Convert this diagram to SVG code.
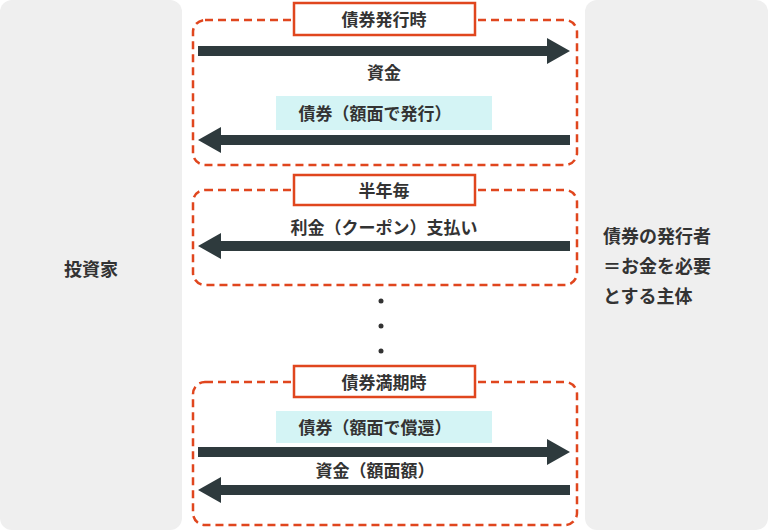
<svg xmlns="http://www.w3.org/2000/svg" width="768" height="530" viewBox="0 0 768 530">
<style>
.panel{fill:#efefef}
.dash{fill:none;stroke:#e0461e;stroke-width:2.5;stroke-dasharray:8,5}
.lbl{fill:#fff;stroke:#e0461e;stroke-width:2.5}
.cy{fill:#d4f4f5}
.ar{fill:#2e3a3d}
text{font-family:"Noto Sans CJK JP",sans-serif;font-weight:bold;fill:#333;font-size:17px;text-anchor:middle}
.big{font-size:18px}
</style>
<rect width="768" height="530" fill="#fff"/>
<g id="investor"><rect class="panel" x="0" y="0" width="182" height="530" rx="12"/><text class="big" x="91" y="276">投資家</text></g>
<g id="issuer"><rect class="panel" x="585" y="0" width="183" height="530" rx="12"/>
<text class="big" x="603" y="243" style="text-anchor:start">債券の発行者</text>
<text class="big" x="603" y="273" style="text-anchor:start">＝お金を必要</text>
<text class="big" x="603" y="303" style="text-anchor:start">とする主体</text></g>
<g id="issue">
<rect class="dash" x="193" y="20" width="384" height="145" rx="12"/>
<rect class="lbl" x="294" y="3" width="181" height="32"/>
<text x="384" y="26">債券発行時</text>
<rect class="cy" x="276" y="96" width="216" height="34"/>
<text x="375" y="120">債券（額面で発行）</text>
<text x="384" y="79">資金</text>
</g>
<g id="half">
<rect class="dash" x="193" y="190" width="384" height="95" rx="12"/>
<rect class="lbl" x="294" y="175" width="181" height="30"/>
<text x="384" y="197">半年毎</text>
<text x="384" y="234">利金（クーポン）支払い</text>
</g>
<g id="dots"><circle cx="381" cy="301" r="2.5" fill="#333"/><circle cx="381" cy="326" r="2.5" fill="#333"/><circle cx="381" cy="351" r="2.5" fill="#333"/></g>
<g id="maturity">
<rect class="dash" x="193" y="382" width="384" height="143" rx="12"/>
<rect class="lbl" x="294" y="366" width="181" height="31"/>
<text x="384" y="389">債券満期時</text>
<rect class="cy" x="276" y="411" width="216" height="32"/>
<text x="375" y="434">債券（額面で償還）</text>
<text x="375" y="477">資金（額面額）</text>
</g>
<g id="connectors">
<polygon class="ar" points="198,46 547,46 547,38 570,51 547,64 547,56 198,56"/>
<polygon class="ar" points="570,135 221,135 221,127 198,140 221,153 221,145 570,145"/>
<polygon class="ar" points="570,241 221,241 221,233 198,246 221,259 221,251 570,251"/>
<polygon class="ar" points="198,447 547,447 547,439 570,452 547,465 547,457 198,457"/>
<polygon class="ar" points="570,485 221,485 221,477 198,490 221,503 221,495 570,495"/>
</g>
</svg>
